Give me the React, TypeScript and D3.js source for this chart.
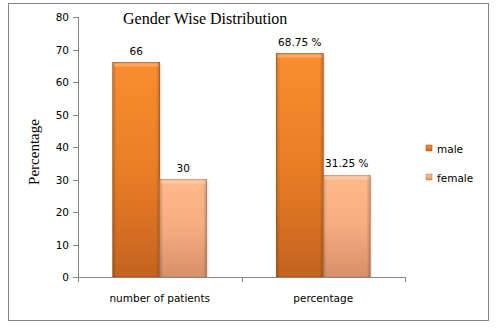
import React from "react";
import * as d3 from "d3";

const categories = ["number of patients", "percentage"];
const seriesNames = ["male", "female"];
const maleValues = [66, 68.75];
const femaleValues = [30, 31.25];
const valueLabels = [["66", "30"], ["68.75 %", "31.25 %"]];
const yTicks = [0, 10, 20, 30, 40, 50, 60, 70, 80];

export default function App() {
  const W = 500, H = 328;
  const x0 = 78, x1 = 405, yTop = 17, yBot = 277;
  const y = d3.scaleLinear().domain([0, 80]).range([yBot, yTop]);
  const xc = d3.scaleBand().domain(categories).range([x0, x1]).paddingInner(0).paddingOuter(0);
  const bw = 47;
  const fills = ["url(#gMale)", "url(#gFemale)"];
  const edges = ["#9a4a12", "#b97a58"];
  const series = [maleValues, femaleValues];
  const font = "Tahoma, 'DejaVu Sans', sans-serif";
  return (
    <svg width={W} height={H} style={{ position: "absolute", left: 0, top: 0, background: "#fff" }}>
      <defs>
        <linearGradient id="gMale" x1="0" y1="0" x2="0" y2="1">
          <stop offset="0" stopColor="#f98d2f" />
          <stop offset="0.5" stopColor="#ea7e26" />
          <stop offset="1" stopColor="#c4631f" />
        </linearGradient>
        <linearGradient id="gFemale" x1="0" y1="0" x2="0" y2="1">
          <stop offset="0" stopColor="#ffb98a" />
          <stop offset="0.5" stopColor="#f6ac7f" />
          <stop offset="1" stopColor="#d8906a" />
        </linearGradient>
        <linearGradient id="gSide" x1="0" y1="0" x2="1" y2="0">
          <stop offset="0" stopColor="#000" stopOpacity="0.18" />
          <stop offset="0.08" stopColor="#000" stopOpacity="0" />
          <stop offset="0.92" stopColor="#000" stopOpacity="0" />
          <stop offset="1" stopColor="#000" stopOpacity="0.2" />
        </linearGradient>
      </defs>
      <rect x={8.5} y={3.5} width={480} height={317} fill="#fff" stroke="#878787" strokeWidth={1} />
      <text x={123} y={24} fontFamily="'Liberation Serif', 'Times New Roman', serif" fontSize={16} fill="#000">
        Gender Wise Distribution
      </text>
      <text transform={`translate(39,152) rotate(-90)`} textAnchor="middle"
        fontFamily="'Liberation Serif', 'Times New Roman', serif" fontSize={15} fill="#000">
        Percentage
      </text>
      {/* y axis */}
      <line x1={x0 + 0.5} x2={x0 + 0.5} y1={yTop} y2={yBot} stroke="#868686" />
      {yTicks.map((t) => (
        <g key={t}>
          <line x1={x0 - 5} x2={x0} y1={Math.round(y(t)) + 0.5} y2={Math.round(y(t)) + 0.5} stroke="#868686" />
          <text x={x0 - 9} y={y(t) + 4} textAnchor="end" fontFamily={font} fontSize={10.5} fill="#000">{t}</text>
        </g>
      ))}
      {/* bars */}
      {categories.map((c, ci) => {
        const cx = (xc(c) as number) + xc.bandwidth() / 2;
        return (
          <g key={c}>
            {series.map((vals, si) => {
              const bx = cx - bw + si * bw;
              const by = y(vals[ci]);
              const bh = yBot - by;
              return (
                <g key={si}>
                  <rect x={bx + 2} y={by + 2} width={bw} height={bh - 2} fill="#000" opacity={0.08} />
                  <rect x={bx} y={by} width={bw} height={bh} fill={fills[si]} stroke={edges[si]} strokeWidth={0.6} />
                  <rect x={bx} y={by} width={bw} height={bh} fill="url(#gSide)" />
                  <rect x={bx + 1} y={by + 1} width={bw - 2} height={3} fill="#fff" opacity={0.25} />
                  <text x={bx + bw / 2} y={by - 8} textAnchor="middle" fontFamily={font} fontSize={10.5} fill="#000">
                    {valueLabels[ci][si]}
                  </text>
                </g>
              );
            })}
            <text x={cx} y={302} textAnchor="middle" fontFamily={font} fontSize={10.5} fill="#000">{c}</text>
          </g>
        );
      })}
      {/* x axis */}
      <line x1={x0} x2={x1} y1={yBot + 0.5} y2={yBot + 0.5} stroke="#868686" />
      {[x0, (x0 + x1) / 2, x1].map((tx, i) => (
        <line key={i} x1={Math.round(tx) + 0.5} x2={Math.round(tx) + 0.5} y1={yBot} y2={yBot + 5} stroke="#868686" />
      ))}
      {/* legend */}
      {seriesNames.map((s, i) => (
        <g key={s}>
          <rect x={426} y={145 + i * 29} width={6} height={6} fill={fills[i]} stroke={edges[i]} strokeWidth={0.5} />
          <text x={437} y={153 + i * 29} fontFamily={font} fontSize={10.5} fill="#000">{s}</text>
        </g>
      ))}
    </svg>
  );
}
